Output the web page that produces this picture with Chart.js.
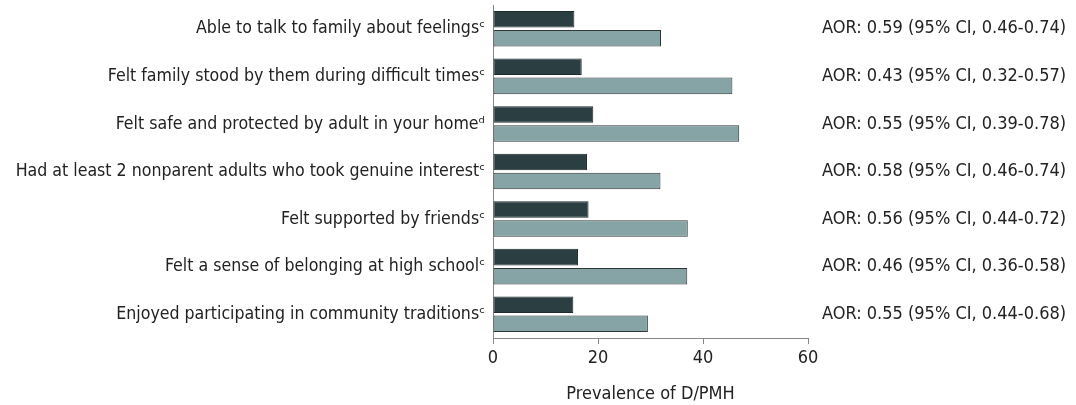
<!DOCTYPE html>
<html>
<head>
<meta charset="utf-8">
<script src="https://cdn.jsdelivr.net/npm/chart.js@4.4.1/dist/chart.umd.min.js"></script>
<style>
  html, body { margin: 0; padding: 0; background: #fff; }
  #wrap { width: 1076px; height: 405px; position: relative; }
</style>
</head>
<body>
<div id="wrap"><canvas id="prevChart"></canvas></div>
<script>
// Protective factors (superscripts kept as Unicode modifier letters)
const categories = [
  'Able to talk to family about feelings\u1D9C',
  'Felt family stood by them during difficult times\u1D9C',
  'Felt safe and protected by adult in your home\u1D48',
  'Had at least 2 nonparent adults who took genuine interest\u1D9C',
  'Felt supported by friends\u1D9C',
  'Felt a sense of belonging at high school\u1D9C',
  'Enjoyed participating in community traditions\u1D9C'
];

// Prevalence of D/PMH, %
const withFactor = [15.5, 16.9, 19.1, 17.9, 18.2, 16.2, 15.3];
const withoutFactor = [32.0, 45.6, 46.9, 31.9, 37.1, 37.0, 29.5];

const aorLabels = [
  'AOR: 0.59 (95% CI, 0.46-0.74)',
  'AOR: 0.43 (95% CI, 0.32-0.57)',
  'AOR: 0.55 (95% CI, 0.39-0.78)',
  'AOR: 0.58 (95% CI, 0.46-0.74)',
  'AOR: 0.56 (95% CI, 0.44-0.72)',
  'AOR: 0.46 (95% CI, 0.36-0.58)',
  'AOR: 0.55 (95% CI, 0.44-0.68)'
];

const xMin = 0;
const xMax = 60;
const xStep = 20;

const FONT = "'DejaVu Sans Condensed', 'DejaVu Sans', sans-serif";
const textColor = '#222';
const axisColor = '#888';

// drop the half-label padding chart.js adds above/below vertical axes
const noVertPad = (scale) => {
  scale.paddingTop = 0;
  scale.paddingBottom = 0;
};

const ctx = document.getElementById('prevChart').getContext('2d');
new Chart(ctx, {
  type: 'bar',
  data: {
    labels: categories,
    datasets: [
      {
        label: 'With factor',
        data: withFactor,
        backgroundColor: '#2b3e42',
        borderColor: '#1e2a2d',
        borderWidth: 1,
        borderSkipped: false
      },
      {
        label: 'Without factor',
        data: withoutFactor,
        backgroundColor: '#86a3a5',
        borderColor: '#2f3638',
        borderWidth: 1,
        borderSkipped: false
      }
    ]
  },
  options: {
    indexAxis: 'y',
    responsive: true,
    maintainAspectRatio: false,
    animation: false,
    categoryPercentage: 0.8,
    barPercentage: 0.87,
    layout: { padding: { top: 5, left: 0, right: 0, bottom: 0 } },
    plugins: {
      legend: { display: false },
      tooltip: { enabled: false }
    },
    scales: {
      x: {
        min: xMin,
        max: xMax,
        ticks: {
          stepSize: xStep,
          color: textColor,
          padding: 4,
          font: { family: FONT, size: 18 }
        },
        grid: {
          drawOnChartArea: false,
          drawTicks: true,
          tickLength: 6,
          color: axisColor
        },
        border: { display: true, color: axisColor, width: 1 },
        title: {
          display: true,
          text: 'Prevalence of D/PMH',
          color: textColor,
          font: { family: FONT, size: 18 },
          padding: { top: 4, bottom: 0 }
        },
        afterFit: (scale) => { scale.height = 67; }
      },
      y: {
        ticks: {
          color: textColor,
          padding: 8,
          font: { family: FONT, size: 17.6 }
        },
        grid: { display: false, drawTicks: false },
        border: { display: true, color: axisColor, width: 1 },
        afterFit: (scale) => {
          scale.width = 493;
          noVertPad(scale);
        }
      },
      y2: {
        type: 'category',
        labels: aorLabels,
        position: 'right',
        offset: true,
        ticks: {
          color: textColor,
          padding: 14,
          font: { family: FONT, size: 18 }
        },
        grid: { display: false, drawTicks: false },
        border: { display: false },
        afterFit: (scale) => {
          scale.width = 268;
          noVertPad(scale);
        }
      }
    }
  }
});
</script>
</body>
</html>
